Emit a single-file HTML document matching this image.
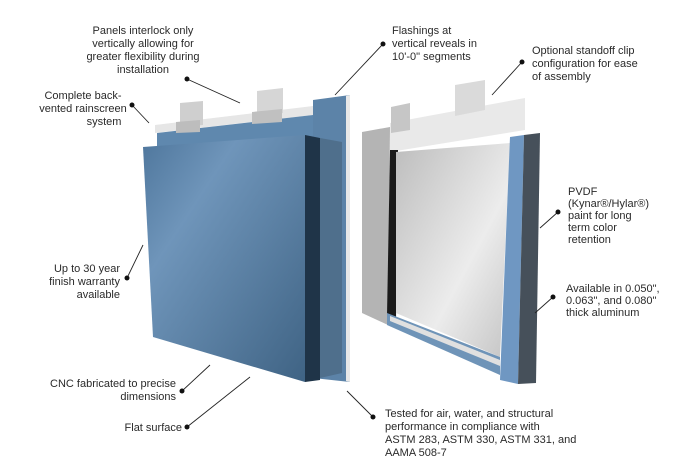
<!DOCTYPE html>
<html><head><meta charset="utf-8"><style>
body{margin:0;background:#fff}
svg{display:block}
text{font-family:"Liberation Sans",sans-serif;font-size:11px;fill:#2a2a2a}
</style></head><body>
<svg width="685" height="469" viewBox="0 0 685 469">
<defs>
<linearGradient id="blue" x1="0" y1="0" x2="1" y2="1">
<stop offset="0" stop-color="#4e769c"/><stop offset="0.3" stop-color="#6f95ba"/><stop offset="1" stop-color="#3f6384"/></linearGradient>
<linearGradient id="glass" x1="0" y1="0" x2="1" y2="1">
<stop offset="0" stop-color="#bdbdbd"/><stop offset="0.6" stop-color="#ececec"/><stop offset="1" stop-color="#c4c4c4"/></linearGradient>
</defs>
<polygon points="313,100 350,95 350,382 313,378" fill="#5c83a8"/>
<polygon points="346,96 350,95 350,382 346,381" fill="#e8e8e8"/>
<polygon points="155,125 313,106 313,115 155,133" fill="#e6e6e6"/>
<polygon points="157,133 313,115 313,140 157,150" fill="#5f88ae"/>
<polygon points="320,138 342,142 342,373 320,378" fill="#4f6f8c"/>
<polygon points="305,135 320,138 320,380 305,382" fill="#1f3448"/>
<polygon points="143,147 305,135 305,382 153,337" fill="url(#blue)"/>
<polygon points="180,103 203,101 203,125 180,127" fill="#cfcfcf"/>
<polygon points="176,122 200,120 200,132 176,133" fill="#bdbdbd"/>
<polygon points="257,91 283,88 283,113 257,115" fill="#d6d6d6"/>
<polygon points="252,112 282,109 282,122 252,124" fill="#c0c0c0"/>
<polygon points="362,132 390,127 388,325 362,313" fill="#b4b4b4"/>
<polygon points="390,123 525,98 525,130 390,152" fill="#e9e9e9"/>
<polygon points="390,150 398,150 396,320 387,316" fill="#1a1a1a"/>
<polygon points="396,152 510,143 500,357 396,313" fill="url(#glass)"/>
<polygon points="387,313 500,357 500,375 387,325" fill="#6f94b8"/>
<polygon points="390,316 500,360 500,366 390,321" fill="#e0e0e0"/>
<polygon points="510,137 524,135 518,384 500,380" fill="#6f97c2"/>
<polygon points="524,135 540,133 536,383 518,384" fill="#46505a"/>
<polygon points="391,107 410,103 410,130 391,133" fill="#c6c6c6"/>
<polygon points="455,85 485,80 485,110 455,116" fill="#dadada"/>
<g stroke="#222" stroke-width="0.9">
<line x1="187" y1="79" x2="240" y2="103"/>
<line x1="132" y1="105" x2="149" y2="123"/>
<line x1="383" y1="44" x2="335" y2="95"/>
<line x1="522" y1="62" x2="492" y2="95"/>
<line x1="558" y1="212" x2="540" y2="228"/>
<line x1="553" y1="297" x2="535" y2="313"/>
<line x1="127" y1="278" x2="143" y2="245"/>
<line x1="182" y1="391" x2="210" y2="365"/>
<line x1="187" y1="427" x2="250" y2="377"/>
<line x1="347" y1="391" x2="373" y2="417"/>
</g>
<g fill="#111">
<circle cx="187" cy="79" r="2.5"/><circle cx="132" cy="105" r="2.5"/><circle cx="383" cy="44" r="2.5"/>
<circle cx="522" cy="62" r="2.5"/><circle cx="558" cy="212" r="2.5"/><circle cx="553" cy="297" r="2.5"/>
<circle cx="127" cy="278" r="2.5"/><circle cx="182" cy="391" r="2.5"/><circle cx="187" cy="427" r="2.5"/>
<circle cx="373" cy="417" r="2.5"/>
</g>
<g text-anchor="middle">
<text x="143" y="34">Panels interlock only</text>
<text x="143" y="47">vertically allowing for</text>
<text x="143" y="60">greater flexibility during</text>
<text x="143" y="73">installation</text>
<text x="83" y="99">Complete back-</text>
<text x="83" y="112">vented rainscreen</text>
<text x="104" y="125">system</text>
</g>
<g text-anchor="end">
<text x="120" y="272">Up to 30 year</text>
<text x="120" y="285">finish warranty</text>
<text x="120" y="298">available</text>
<text x="176" y="387">CNC fabricated to precise</text>
<text x="176" y="400">dimensions</text>
<text x="182" y="431">Flat surface</text>
</g>
<text x="392" y="34">Flashings at</text>
<text x="392" y="47">vertical reveals in</text>
<text x="392" y="60">10'-0" segments</text>
<text x="532" y="54">Optional standoff clip</text>
<text x="532" y="67">configuration for ease</text>
<text x="532" y="80">of assembly</text>
<text x="568" y="195">PVDF</text>
<text x="568" y="207">(Kynar®/Hylar®)</text>
<text x="568" y="219">paint for long</text>
<text x="568" y="231">term color</text>
<text x="568" y="243">retention</text>
<text x="566" y="292">Available in 0.050",</text>
<text x="566" y="304">0.063", and 0.080"</text>
<text x="566" y="316">thick aluminum</text>
<text x="385" y="417">Tested for air, water, and structural</text>
<text x="385" y="430">performance in compliance with</text>
<text x="385" y="443">ASTM 283, ASTM 330, ASTM 331, and</text>
<text x="385" y="456">AAMA 508-7</text>
</svg>
</body></html>
